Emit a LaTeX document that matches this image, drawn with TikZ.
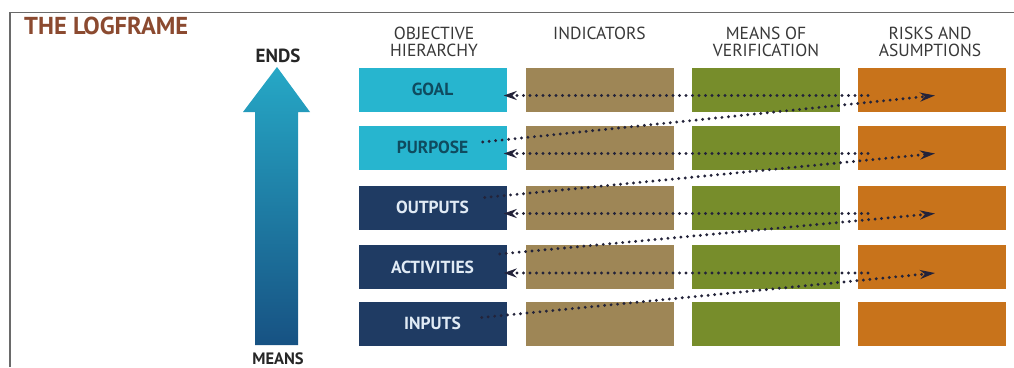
\documentclass[tikz,border=0pt]{standalone}
\usepackage{fontspec}
\setmainfont{PT Sans}
\usetikzlibrary{arrows.meta}
\definecolor{cyanbox}{HTML}{27B5CF}
\definecolor{navybox}{HTML}{1F3B63}
\definecolor{khakibox}{HTML}{9E8656}
\definecolor{olivebox}{HTML}{778D2B}
\definecolor{orangebox}{HTML}{C8731B}
\definecolor{titlec}{HTML}{8B4A30}
\definecolor{headc}{HTML}{383838}
\definecolor{arrowtop}{HTML}{26A8C6}
\definecolor{arrowbot}{HTML}{175283}
\definecolor{dotc}{HTML}{23233A}
\definecolor{goaltext}{HTML}{0F4B5F}
\definecolor{navytext}{HTML}{E1EBF5}
\definecolor{framec}{HTML}{6A6A6A}
\begin{document}
\begin{tikzpicture}[x=1pt,y=-1pt,
  cell/.style={minimum width=148pt,minimum height=44pt,inner sep=0pt,draw=none,font=\bfseries\fontsize{17.5}{17.5}\selectfont},
  head/.style={anchor=north,inner sep=0pt,align=center,text=headc,font=\fontsize{17.5}{16.5}\selectfont},
  conn/.style={draw=dotc,line width=3.2pt,dash pattern=on 0pt off 6.5pt,line cap=round},
  tipL/.style={-{Stealth[length=13pt,width=9pt]}},
  side/.style={anchor=north,inner sep=0pt,font=\bfseries\fontsize{19}{19}\selectfont,text=black!85},
]
\useasboundingbox (0,0) rectangle (1014,367);
\draw[framec,line width=1.5pt] (10,367) -- (10,12.5) -- (1014,12.5);

\node[anchor=west,inner sep=0pt,text=titlec,font=\bfseries\fontsize{24.5}{24.5}\selectfont] (title) at (24,26) {THE LOGFRAME};

\node[head] (h1) at (434,27) {OBJECTIVE\\HIERARCHY};
\node[head] (h2) at (599.5,27) {INDICATORS};
\node[head] (h3) at (766,27) {MEANS OF\\VERIFICATION};
\node[head] (h4) at (930,27) {RISKS AND\\ASUMPTIONS};

\shade[top color=arrowtop,bottom color=arrowbot] (255,345) -- (255,112) -- (243,112) -- (277,67) -- (310,112) -- (298,112) -- (298,345) -- cycle;
\node[side] (ends) at (278,49) {ENDS};
\node[side,anchor=base,font=\bfseries\fontsize{16.5}{16.5}\selectfont] (means) at (278,364) {MEANS};

\foreach \i/\y/\lab/\fc/\tc in {1/89.5/GOAL/cyanbox/goaltext,2/147.5/PURPOSE/cyanbox/goaltext,3/207.5/OUTPUTS/navybox/navytext,4/267/ACTIVITIES/navybox/navytext,5/323.5/INPUTS/navybox/navytext}{
  \node[cell,fill=\fc,text=\tc] (o\i) at (432.5,\y) {\lab};
  \node[cell,fill=khakibox] (i\i) at (599.5,\y) {};
  \node[cell,fill=olivebox] (m\i) at (766,\y) {};
  \node[cell,fill=orangebox] (r\i) at (932,\y) {};
}

\foreach \i in {1,2,3,4}{
  \draw[conn,tipL] ([xshift=-64pt,yshift=-6pt]r\i.center) -- ([xshift=-3pt,yshift=-6pt]o\i.east);
}
\foreach \i/\n/\dy/\dx in {1/2/5.5/-24,2/3/10/-22,3/4/13/-7,4/5/6/-25}{
  \draw[conn,-{Stealth[length=15pt,width=9pt]}] ([xshift=\dx pt,yshift=\dy pt]o\n.east) -- ([xshift=3pt,yshift=-6pt]r\i.center);
}
\end{tikzpicture}
\end{document}
